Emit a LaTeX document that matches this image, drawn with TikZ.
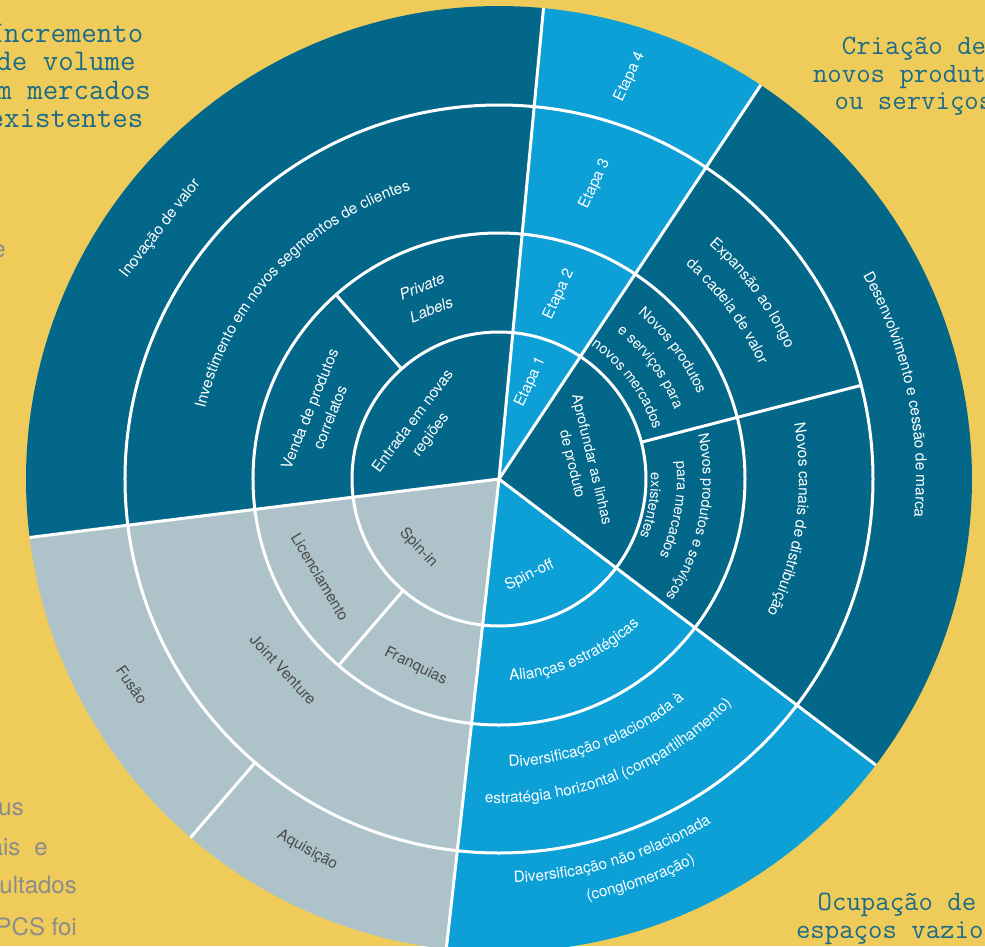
\documentclass[tikz,border=0pt]{standalone}
\usepackage{fontspec}
\setmainfont{TeX Gyre Heros}
\usetikzlibrary{decorations.text}

\definecolor{sand}{HTML}{EFCC5A}
\definecolor{deep}{HTML}{03678A}
\definecolor{sky}{HTML}{0CA0D6}
\definecolor{mist}{HTML}{ADC3C9}
\definecolor{ink}{HTML}{1B6B88}
\definecolor{slate}{HTML}{4A4A4A}
\definecolor{ash}{HTML}{8C8C8C}

\newcommand\lblfont{\fontsize{15.3}{22}\selectfont}
\newcommand\smallfont{\fontsize{14.5}{20}\selectfont}
\newcommand\sunslice[3]{\fill[#3] (0,0) -- (#1:473) arc[start angle=#1, end angle=#2, radius=473] -- cycle;}
\newcommand\arclabel[5][\lblfont]{\path[decorate, decoration={text along path, text align=center, text color=white,
  text={|#1|#5}}] (#3:#2) arc[start angle=#3, end angle=#4, radius=#2];}

\tikzset{
  rim/.style={white, line width=3pt},
  lbl/.style={text=white, font=\lblfont, align=center, inner sep=0pt},
  dim/.style={lbl, text=slate},
  corner/.style={text=ink, font=\ttfamily\fontsize{28}{27.5}\selectfont, align=center, inner sep=0pt, anchor=base},
  body/.style={text=ash, font=\fontsize{24}{24}\selectfont, inner sep=0pt, anchor=base east}
}

\begin{document}
\begin{tikzpicture}[x=1pt, y=1pt]
  \useasboundingbox (-499,-467) rectangle (486,479);
  \clip (-499,-467) rectangle (486,479);
  \fill[sand] (-499,-467) rectangle (486,479);

  \sunslice{84.6}{187.1}{deep}
  \sunslice{187.1}{263.6}{mist}
  \sunslice{263.6}{322.8}{sky}
  \sunslice{-37.2}{56.4}{deep}
  \sunslice{56.4}{84.6}{sky}

  \foreach \r in {147,246,374}
    \draw[rim] (0,0) circle[radius=\r];
  \foreach \a in {56.4,84.6,187.1,263.6,322.8}
    \draw[rim] (0,0) -- (\a:473);
  \draw[rim] (131.5:147) -- (131.5:246);
  \draw[rim] (14.5:147) -- (14.5:374);
  \draw[rim] (229.3:147) -- (229.3:246) (229.3:374) -- (229.3:473);

  \node[lbl, rotate=65] (E1) at (72:102) {Etapa 1};
  \node[lbl, rotate=65] (E2) at (72:194) {Etapa 2};
  \node[lbl, rotate=65] (E3) at (72:310) {Etapa 3};
  \node[lbl, rotate=65] (E4) at (72:423) {Etapa 4};

  \node[lbl, rotate=53] (ER) at (146.5:92) {Entrada em novas\\regiões};
  \node[lbl, rotate=22, font=\fontsize{15.3}{25}\selectfont\itshape] (PL) at (111.8:195) {Private\\Labels};
  \node[lbl, rotate=68] (VP) at (159.8:191) {Venda de produtos\\correlatos};
  \arclabel{302}{181.8}{91.8}{Investimento em novos segmentos de clientes}
  \node[lbl, rotate=52] (IV) at (143.5:421) {Inovação de valor};

  \node[lbl, font=\smallfont, rotate=-76.5] (AL) at (11.7:84) {Aprofundar as linhas\\de produto};
  \arclabel[\smallfont]{216}{76.5}{-3.5}{Novos produtos}
  \arclabel[\smallfont]{189}{76.5}{-3.5}{e serviços para}
  \arclabel[\smallfont]{162}{76.5}{-3.5}{novos mercados}
  \arclabel[\smallfont]{204}{38.7}{-61.3}{Novos produtos e serviços}
  \arclabel[\smallfont]{178}{40}{-60}{para mercados}
  \arclabel[\smallfont]{152}{40}{-60}{existentes}
  \arclabel{315}{66.3}{6.3}{Expansão ao longo}
  \arclabel{284}{66.3}{6.3}{da cadeia de valor}
  \arclabel{300}{37}{-53}{Novos canais de distribuição}
  \arclabel{417}{52}{-28}{Desenvolvimento e cessão de marca}

  \node[lbl, rotate=26] (SO) at (287.6:101) {Spin-off};
  \arclabel{202}{248.5}{338.5}{Alianças estratégicas}
  \arclabel{288}{246}{336}{Diversificação relacionada à}
  \arclabel{324}{246.7}{336.7}{estratégia horizontal (compartilhamento)}
  \arclabel{404}{241.9}{331.9}{Diversificação não relacionada}
  \arclabel{431}{244.5}{334.5}{(conglomeração)}

  \node[dim, rotate=-47] (SI) at (220.4:106) {Spin-in};
  \node[dim, rotate=-59.5] (LC) at (208.7:204) {Licenciamento};
  \node[dim, rotate=-26] (FR) at (246:205) {Franquias};
  \node[dim, rotate=-47] (JV) at (221.5:288) {Joint Venture};
  \node[dim, rotate=-55] (FU) at (209.3:421) {Fusão};
  \node[dim, rotate=-29] (AQ) at (242.7:418) {Aquisição};

  \node[corner, font=\ttfamily\fontsize{30}{28.5}\selectfont] (VOL) at (-433,351) {Incremento\\de volume\\em mercados\\existentes};
  \node[corner] (NEW) at (415,369) {Criação de\\novos produtos\\ou serviços};
  \node[corner] (GAP) at (398,-459) {Ocupação de\\espaços vazios};

  \node[body] (T1) at (-493,222) {e};
  \node[body] (T2) at (-475,-336) {seus};
  \node[body] (T3) at (-451,-376) {ais\hspace{14pt}e};
  \node[body] (T4) at (-422,-414) {sultados};
  \node[body] (T5) at (-422,-456) {PCS foi};
\end{tikzpicture}
\end{document}
